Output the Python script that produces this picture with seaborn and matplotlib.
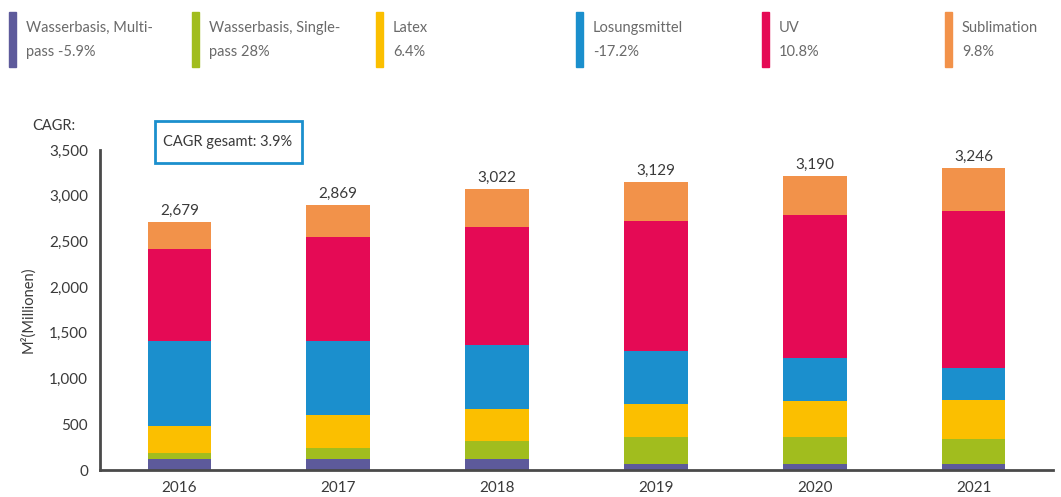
import numpy as np
import pandas as pd
import matplotlib.pyplot as plt
import seaborn as sns
from matplotlib.patches import Rectangle

# --- data (M² in millions) ---
years = ["2016", "2017", "2018", "2019", "2020", "2021"]
totals = ["2,679", "2,869", "3,022", "3,129", "3,190", "3,246"]

multipass = [120, 120, 120, 66, 66, 66]
singlepass = [66, 121, 197, 295, 295, 273]
latex = [299, 361, 350, 361, 394, 427]
losungsmittel = [926, 809, 701, 580, 470, 350]
uv = [1007, 1138, 1290, 1422, 1565, 1718]
sublimation = [295, 350, 416, 427, 426, 470]

series_names = ["Wasserbasis, Multi-\npass -5.9%", "Wasserbasis, Single-\npass 28%",
                "Latex\n6.4%", "Losungsmittel\n-17.2%", "UV\n10.8%", "Sublimation\n9.8%"]
series_values = [multipass, singlepass, latex, losungsmittel, uv, sublimation]
colors = ["#5d5a9b", "#a1bd1e", "#fbbf00", "#1b8fcd", "#e50a55", "#f2924a"]

sns.set_style("white")
plt.rcParams['font.family'] = ['Lato', 'DejaVu Sans']

fig = plt.figure(figsize=(10.61, 4.97), dpi=100)
ax = fig.add_axes([100 / 1061, 27 / 497, 953 / 1061, 320 / 497])

# stacked bars: draw cumulative sums from the top layer down
df = pd.DataFrame({name: vals for name, vals in zip(series_names, series_values)}, index=years)
cum = df.cumsum(axis=1)
for name, col in reversed(list(zip(series_names, colors))):
    sns.barplot(x=years, y=cum[name].values, color=col, width=0.4, saturation=1,
                ax=ax, linewidth=0)

# total labels above bars
tops = cum.iloc[:, -1].values
for i, (t, lab) in enumerate(zip(tops, totals)):
    ax.text(i, t + 45, lab, ha="center", va="bottom", fontsize=11, color="#3a3a3a")

ax.set_xlim(-0.5, 5.5)
ax.set_ylim(0, 3500)
ax.set_yticks(np.arange(0, 3501, 500))
ax.yaxis.set_major_formatter(plt.FuncFormatter(lambda v, p: f"{int(v):,}"))
ax.set_xticks(range(len(years)))
ax.set_xticks(np.arange(-0.5, 5.6, 1), minor=True)
ax.tick_params(axis="x", which="major", length=0, pad=8, labelsize=11, labelcolor="#3a3a3a")
ax.tick_params(axis="x", which="minor", length=6, width=2, color="#4a4a4a", direction="out")
ax.tick_params(axis="y", length=5, width=2, color="#4a4a4a", labelsize=11, labelcolor="#3a3a3a")
ax.set_ylabel("M²(Millionen)", fontsize=10.5, color="#3a3a3a", labelpad=10)
ax.set_xlabel("")

for side in ["top", "right"]:
    ax.spines[side].set_visible(False)
for side in ["left", "bottom"]:
    ax.spines[side].set_color("#4a4a4a")
    ax.spines[side].set_linewidth(2)

# CAGR header and box
fig.text(32 / 1061, 1 - 126 / 497, "CAGR:", fontsize=10.5, color="#3a3a3a", va="center")
fig.patches.append(Rectangle((155 / 1061, 1 - 163 / 497), 147 / 1061, 42 / 497,
                             transform=fig.transFigure, fill=False,
                             edgecolor="#1b8fcd", linewidth=2))
fig.text(228 / 1061, 1 - 142 / 497, "CAGR gesamt: 3.9%", fontsize=10.5,
         color="#3a3a3a", ha="center", va="center")

# legend along the top
leg_x = [9, 192, 376, 576, 762, 945]
for x, name, col in zip(leg_x, series_names, colors):
    fig.patches.append(Rectangle((x / 1061, 1 - 67 / 497), 7 / 1061, 55 / 497,
                                 transform=fig.transFigure, color=col))
    fig.text((x + 17) / 1061, 1 - 40 / 497, name, fontsize=10.5, color="#6a6a6a",
             va="center", linespacing=1.9)

fig.savefig("out.png", dpi=100)
